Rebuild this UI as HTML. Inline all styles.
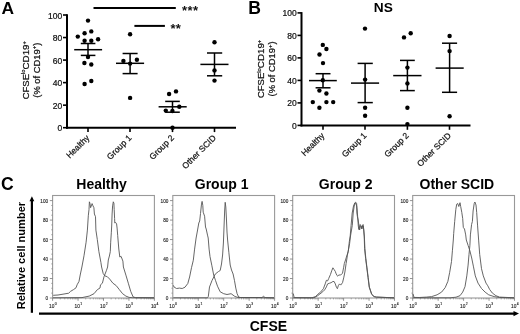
<!DOCTYPE html>
<html><head><meta charset="utf-8"><style>
html,body{margin:0;padding:0;background:#fff;}
svg{display:block;font-family:"Liberation Sans", sans-serif;will-change:transform;}
.r{stroke:#111;stroke-width:0.22px;}
.h{stroke:#222;stroke-width:0.12px;}
</style></head><body>
<svg width="520" height="334" viewBox="0 0 520 334">
<rect width="520" height="334" fill="#fff"/>
<line x1="67" y1="14.2" x2="67" y2="128.7" stroke="#000" stroke-width="2"/>
<line x1="66" y1="127.7" x2="236" y2="127.7" stroke="#000" stroke-width="2"/>
<line x1="63" y1="127.7" x2="67" y2="127.7" stroke="#000" stroke-width="1.6"/>
<text x="62.2" y="131.2" text-anchor="end" font-size="8.5" fill="#111" class="r">0</text>
<line x1="63" y1="105.16" x2="67" y2="105.16" stroke="#000" stroke-width="1.6"/>
<text x="62.2" y="108.66" text-anchor="end" font-size="8.5" fill="#111" class="r">20</text>
<line x1="63" y1="82.62" x2="67" y2="82.62" stroke="#000" stroke-width="1.6"/>
<text x="62.2" y="86.12" text-anchor="end" font-size="8.5" fill="#111" class="r">40</text>
<line x1="63" y1="60.08" x2="67" y2="60.08" stroke="#000" stroke-width="1.6"/>
<text x="62.2" y="63.58" text-anchor="end" font-size="8.5" fill="#111" class="r">60</text>
<line x1="63" y1="37.540000000000006" x2="67" y2="37.540000000000006" stroke="#000" stroke-width="1.6"/>
<text x="62.2" y="41.040000000000006" text-anchor="end" font-size="8.5" fill="#111" class="r">80</text>
<line x1="63" y1="15.0" x2="67" y2="15.0" stroke="#000" stroke-width="1.6"/>
<text x="62.2" y="18.5" text-anchor="end" font-size="8.5" fill="#111" class="r">100</text>
<line x1="88" y1="127.7" x2="88" y2="132.1" stroke="#000" stroke-width="1.6"/>
<line x1="130" y1="127.7" x2="130" y2="132.1" stroke="#000" stroke-width="1.6"/>
<line x1="172.5" y1="127.7" x2="172.5" y2="132.1" stroke="#000" stroke-width="1.6"/>
<line x1="214.5" y1="127.7" x2="214.5" y2="132.1" stroke="#000" stroke-width="1.6"/>
<text transform="translate(90.05,138.45) rotate(-45)" text-anchor="end" font-size="8.5" fill="#111" class="r">Healthy</text>
<text transform="translate(132.05,138.45) rotate(-45)" text-anchor="end" font-size="8.5" fill="#111" class="r">Group 1</text>
<text transform="translate(174.55,138.45) rotate(-45)" text-anchor="end" font-size="8.5" fill="#111" class="r">Group 2</text>
<text transform="translate(216.55,138.45) rotate(-45)" text-anchor="end" font-size="8.5" fill="#111" class="r">Other SCID</text>
<line x1="88" y1="43.5" x2="88" y2="55.4" stroke="#000" stroke-width="1.5"/>
<line x1="74.2" y1="49.7" x2="102.1" y2="49.7" stroke="#000" stroke-width="1.5"/>
<line x1="80.8" y1="43.5" x2="95.4" y2="43.5" stroke="#000" stroke-width="1.5"/>
<line x1="80.8" y1="55.4" x2="95.4" y2="55.4" stroke="#000" stroke-width="1.5"/>
<circle cx="88" cy="20.6" r="2.2" fill="#000"/>
<circle cx="84.6" cy="33.2" r="2.2" fill="#000"/>
<circle cx="91.3" cy="31.4" r="2.2" fill="#000"/>
<circle cx="77.8" cy="36.6" r="2.2" fill="#000"/>
<circle cx="98.1" cy="39.3" r="2.2" fill="#000"/>
<circle cx="84.6" cy="40.7" r="2.2" fill="#000"/>
<circle cx="91.3" cy="40.7" r="2.2" fill="#000"/>
<circle cx="88" cy="57" r="2.2" fill="#000"/>
<circle cx="84.4" cy="63" r="2.2" fill="#000"/>
<circle cx="91.3" cy="64.5" r="2.2" fill="#000"/>
<circle cx="91.3" cy="81" r="2.2" fill="#000"/>
<circle cx="84.6" cy="84" r="2.2" fill="#000"/>
<line x1="130.1" y1="53.5" x2="130.1" y2="73.6" stroke="#000" stroke-width="1.5"/>
<line x1="116" y1="63.3" x2="144.1" y2="63.3" stroke="#000" stroke-width="1.5"/>
<line x1="122.6" y1="53.5" x2="137.6" y2="53.5" stroke="#000" stroke-width="1.5"/>
<line x1="122.6" y1="73.6" x2="137.6" y2="73.6" stroke="#000" stroke-width="1.5"/>
<circle cx="130.1" cy="34.2" r="2.2" fill="#000"/>
<circle cx="123.4" cy="60.9" r="2.2" fill="#000"/>
<circle cx="136.9" cy="59.7" r="2.2" fill="#000"/>
<circle cx="130.1" cy="63.6" r="2.2" fill="#000"/>
<circle cx="130.1" cy="97.9" r="2.2" fill="#000"/>
<line x1="172.5" y1="101.4" x2="172.5" y2="112.2" stroke="#000" stroke-width="1.5"/>
<line x1="158.6" y1="106.8" x2="186.7" y2="106.8" stroke="#000" stroke-width="1.5"/>
<line x1="165.2" y1="101.4" x2="179.8" y2="101.4" stroke="#000" stroke-width="1.5"/>
<line x1="165.2" y1="112.2" x2="179.8" y2="112.2" stroke="#000" stroke-width="1.5"/>
<circle cx="169.1" cy="94" r="2.2" fill="#000"/>
<circle cx="176" cy="91.4" r="2.2" fill="#000"/>
<circle cx="179.3" cy="106.8" r="2.2" fill="#000"/>
<circle cx="165.8" cy="110.6" r="2.2" fill="#000"/>
<circle cx="172.4" cy="111" r="2.2" fill="#000"/>
<circle cx="172.5" cy="127.7" r="2.2" fill="#000"/>
<line x1="214.5" y1="53" x2="214.5" y2="75.8" stroke="#000" stroke-width="1.5"/>
<line x1="200.4" y1="64.4" x2="228.5" y2="64.4" stroke="#000" stroke-width="1.5"/>
<line x1="207" y1="53" x2="222.2" y2="53" stroke="#000" stroke-width="1.5"/>
<line x1="207" y1="75.8" x2="222.2" y2="75.8" stroke="#000" stroke-width="1.5"/>
<circle cx="214.5" cy="42.2" r="2.2" fill="#000"/>
<circle cx="214.5" cy="70.4" r="2.2" fill="#000"/>
<circle cx="214.5" cy="80.6" r="2.2" fill="#000"/>
<text transform="translate(28.6,70.2) rotate(-90)" text-anchor="middle" font-size="9.5" fill="#111" class="r">CFSE<tspan font-size="5.8" dy="-3.3">lo</tspan><tspan font-size="9.8" dy="3.3">CD19</tspan><tspan font-size="5.8" dy="-3.1">+</tspan></text>
<text transform="translate(39.6,70.2) rotate(-90)" text-anchor="middle" font-size="9.4" fill="#111" class="r">(% of CD19<tspan font-size="6" dy="-3.5">+</tspan><tspan dy="3.5">)</tspan></text>
<line x1="301.5" y1="12.1" x2="301.5" y2="126.4" stroke="#000" stroke-width="2"/>
<line x1="300.5" y1="125.4" x2="470.5" y2="125.4" stroke="#000" stroke-width="2"/>
<line x1="297.5" y1="125.4" x2="301.5" y2="125.4" stroke="#000" stroke-width="1.6"/>
<text x="296.7" y="128.9" text-anchor="end" font-size="8.5" fill="#111" class="r">0</text>
<line x1="297.5" y1="102.9" x2="301.5" y2="102.9" stroke="#000" stroke-width="1.6"/>
<text x="296.7" y="106.4" text-anchor="end" font-size="8.5" fill="#111" class="r">20</text>
<line x1="297.5" y1="80.4" x2="301.5" y2="80.4" stroke="#000" stroke-width="1.6"/>
<text x="296.7" y="83.9" text-anchor="end" font-size="8.5" fill="#111" class="r">40</text>
<line x1="297.5" y1="57.900000000000006" x2="301.5" y2="57.900000000000006" stroke="#000" stroke-width="1.6"/>
<text x="296.7" y="61.400000000000006" text-anchor="end" font-size="8.5" fill="#111" class="r">60</text>
<line x1="297.5" y1="35.400000000000006" x2="301.5" y2="35.400000000000006" stroke="#000" stroke-width="1.6"/>
<text x="296.7" y="38.900000000000006" text-anchor="end" font-size="8.5" fill="#111" class="r">80</text>
<line x1="297.5" y1="12.900000000000006" x2="301.5" y2="12.900000000000006" stroke="#000" stroke-width="1.6"/>
<text x="296.7" y="16.400000000000006" text-anchor="end" font-size="8.5" fill="#111" class="r">100</text>
<line x1="323" y1="125.4" x2="323" y2="129.8" stroke="#000" stroke-width="1.6"/>
<line x1="365" y1="125.4" x2="365" y2="129.8" stroke="#000" stroke-width="1.6"/>
<line x1="407.4" y1="125.4" x2="407.4" y2="129.8" stroke="#000" stroke-width="1.6"/>
<line x1="449.5" y1="125.4" x2="449.5" y2="129.8" stroke="#000" stroke-width="1.6"/>
<text transform="translate(325.05,136.14999999999998) rotate(-45)" text-anchor="end" font-size="8.5" fill="#111" class="r">Healthy</text>
<text transform="translate(367.05,136.14999999999998) rotate(-45)" text-anchor="end" font-size="8.5" fill="#111" class="r">Group 1</text>
<text transform="translate(409.45,136.14999999999998) rotate(-45)" text-anchor="end" font-size="8.5" fill="#111" class="r">Group 2</text>
<text transform="translate(451.55,136.14999999999998) rotate(-45)" text-anchor="end" font-size="8.5" fill="#111" class="r">Other SCID</text>
<line x1="323" y1="73.7" x2="323" y2="87.8" stroke="#000" stroke-width="1.5"/>
<line x1="309" y1="80.6" x2="336.8" y2="80.6" stroke="#000" stroke-width="1.5"/>
<line x1="315.6" y1="73.7" x2="330.5" y2="73.7" stroke="#000" stroke-width="1.5"/>
<line x1="315.6" y1="87.8" x2="330.5" y2="87.8" stroke="#000" stroke-width="1.5"/>
<circle cx="322.8" cy="44.9" r="2.2" fill="#000"/>
<circle cx="326.4" cy="49" r="2.2" fill="#000"/>
<circle cx="319.5" cy="54.5" r="2.2" fill="#000"/>
<circle cx="323" cy="63.1" r="2.2" fill="#000"/>
<circle cx="322.8" cy="80.3" r="2.2" fill="#000"/>
<circle cx="319.4" cy="90.6" r="2.2" fill="#000"/>
<circle cx="326.4" cy="93.5" r="2.2" fill="#000"/>
<circle cx="312.8" cy="102.1" r="2.2" fill="#000"/>
<circle cx="326.4" cy="102.1" r="2.2" fill="#000"/>
<circle cx="333.2" cy="102.1" r="2.2" fill="#000"/>
<circle cx="319.4" cy="107.8" r="2.2" fill="#000"/>
<line x1="365.1" y1="63.4" x2="365.1" y2="102.6" stroke="#000" stroke-width="1.5"/>
<line x1="351" y1="83.1" x2="379.1" y2="83.1" stroke="#000" stroke-width="1.5"/>
<line x1="357.6" y1="63.4" x2="372.8" y2="63.4" stroke="#000" stroke-width="1.5"/>
<line x1="357.6" y1="102.6" x2="372.8" y2="102.6" stroke="#000" stroke-width="1.5"/>
<circle cx="365" cy="28.6" r="2.2" fill="#000"/>
<circle cx="365.1" cy="79.6" r="2.2" fill="#000"/>
<circle cx="365.1" cy="107.8" r="2.2" fill="#000"/>
<circle cx="365.1" cy="115.8" r="2.2" fill="#000"/>
<line x1="407.4" y1="60.4" x2="407.4" y2="90.6" stroke="#000" stroke-width="1.5"/>
<line x1="393.2" y1="75.6" x2="421.5" y2="75.6" stroke="#000" stroke-width="1.5"/>
<line x1="400" y1="60.4" x2="414.8" y2="60.4" stroke="#000" stroke-width="1.5"/>
<line x1="400" y1="90.6" x2="414.8" y2="90.6" stroke="#000" stroke-width="1.5"/>
<circle cx="404" cy="37.4" r="2.2" fill="#000"/>
<circle cx="410.7" cy="33.2" r="2.2" fill="#000"/>
<circle cx="407.4" cy="67.6" r="2.2" fill="#000"/>
<circle cx="407.4" cy="83.4" r="2.2" fill="#000"/>
<circle cx="407.4" cy="107.7" r="2.2" fill="#000"/>
<circle cx="407.4" cy="124.1" r="2.2" fill="#000"/>
<line x1="449.6" y1="43.2" x2="449.6" y2="92.3" stroke="#000" stroke-width="1.5"/>
<line x1="435.6" y1="68.1" x2="463.7" y2="68.1" stroke="#000" stroke-width="1.5"/>
<line x1="442" y1="43.2" x2="457.1" y2="43.2" stroke="#000" stroke-width="1.5"/>
<line x1="442" y1="92.3" x2="457.1" y2="92.3" stroke="#000" stroke-width="1.5"/>
<circle cx="449.6" cy="36" r="2.2" fill="#000"/>
<circle cx="449.6" cy="51.1" r="2.2" fill="#000"/>
<circle cx="449.6" cy="116.3" r="2.2" fill="#000"/>
<text transform="translate(263.8,68.9) rotate(-90)" text-anchor="middle" font-size="9.5" fill="#111" class="r">CFSE<tspan font-size="5.8" dy="-3.3">lo</tspan><tspan font-size="9.8" dy="3.3">CD19</tspan><tspan font-size="5.8" dy="-3.1">+</tspan></text>
<text transform="translate(275.0,68.9) rotate(-90)" text-anchor="middle" font-size="9.4" fill="#111" class="r">(% of CD19<tspan font-size="6" dy="-3.5">+</tspan><tspan dy="3.5">)</tspan></text>
<line x1="93.5" y1="8" x2="175.8" y2="8" stroke="#000" stroke-width="2"/>
<text x="182.1" y="15.2" font-size="13" font-weight="bold" fill="#111" letter-spacing="0.35">***</text>
<line x1="134.4" y1="25.9" x2="164.9" y2="25.9" stroke="#000" stroke-width="2"/>
<text x="170.6" y="33.4" font-size="13" font-weight="bold" fill="#111" letter-spacing="0.1">**</text>
<text x="1.5" y="14.2" font-size="17.4" font-weight="bold">A</text>
<text x="248.2" y="13.8" font-size="17.6" font-weight="bold">B</text>
<text x="1.1" y="190.4" font-size="17.6" font-weight="bold">C</text>
<text x="373.8" y="12" font-size="13.7" font-weight="bold">NS</text>
<text x="101.6" y="189" text-anchor="middle" font-size="14" font-weight="bold">Healthy</text>
<text x="221.6" y="189" text-anchor="middle" font-size="14" font-weight="bold">Group 1</text>
<text x="345.7" y="189" text-anchor="middle" font-size="14" font-weight="bold">Group 2</text>
<text x="456.9" y="189" text-anchor="middle" font-size="14" font-weight="bold">Other SCID</text>
<rect x="52.6" y="195.5" width="101.8" height="102.5" fill="none" stroke="#999" stroke-width="1.1"/>
<line x1="49.800000000000004" y1="298.0" x2="52.6" y2="298.0" stroke="#777" stroke-width="0.8"/>
<text x="48.2" y="300.2" text-anchor="end" font-size="4.7" fill="#222" class="h">0</text>
<line x1="49.800000000000004" y1="278.52" x2="52.6" y2="278.52" stroke="#777" stroke-width="0.8"/>
<text x="48.2" y="280.71999999999997" text-anchor="end" font-size="4.7" fill="#222" class="h">20</text>
<line x1="49.800000000000004" y1="259.04" x2="52.6" y2="259.04" stroke="#777" stroke-width="0.8"/>
<text x="48.2" y="261.24" text-anchor="end" font-size="4.7" fill="#222" class="h">40</text>
<line x1="49.800000000000004" y1="239.56" x2="52.6" y2="239.56" stroke="#777" stroke-width="0.8"/>
<text x="48.2" y="241.76" text-anchor="end" font-size="4.7" fill="#222" class="h">60</text>
<line x1="49.800000000000004" y1="220.07999999999998" x2="52.6" y2="220.07999999999998" stroke="#777" stroke-width="0.8"/>
<text x="48.2" y="222.27999999999997" text-anchor="end" font-size="4.7" fill="#222" class="h">80</text>
<line x1="49.800000000000004" y1="200.6" x2="52.6" y2="200.6" stroke="#777" stroke-width="0.8"/>
<text x="48.2" y="202.79999999999998" text-anchor="end" font-size="4.7" fill="#222" class="h">100</text>
<line x1="51.2" y1="293.13" x2="52.6" y2="293.13" stroke="#888" stroke-width="0.7"/>
<line x1="51.2" y1="288.26" x2="52.6" y2="288.26" stroke="#888" stroke-width="0.7"/>
<line x1="51.2" y1="283.39" x2="52.6" y2="283.39" stroke="#888" stroke-width="0.7"/>
<line x1="51.2" y1="273.65" x2="52.6" y2="273.65" stroke="#888" stroke-width="0.7"/>
<line x1="51.2" y1="268.78" x2="52.6" y2="268.78" stroke="#888" stroke-width="0.7"/>
<line x1="51.2" y1="263.90999999999997" x2="52.6" y2="263.90999999999997" stroke="#888" stroke-width="0.7"/>
<line x1="51.2" y1="254.17000000000002" x2="52.6" y2="254.17000000000002" stroke="#888" stroke-width="0.7"/>
<line x1="51.2" y1="249.3" x2="52.6" y2="249.3" stroke="#888" stroke-width="0.7"/>
<line x1="51.2" y1="244.43" x2="52.6" y2="244.43" stroke="#888" stroke-width="0.7"/>
<line x1="51.2" y1="234.69" x2="52.6" y2="234.69" stroke="#888" stroke-width="0.7"/>
<line x1="51.2" y1="229.82" x2="52.6" y2="229.82" stroke="#888" stroke-width="0.7"/>
<line x1="51.2" y1="224.95" x2="52.6" y2="224.95" stroke="#888" stroke-width="0.7"/>
<line x1="51.2" y1="215.20999999999998" x2="52.6" y2="215.20999999999998" stroke="#888" stroke-width="0.7"/>
<line x1="51.2" y1="210.34" x2="52.6" y2="210.34" stroke="#888" stroke-width="0.7"/>
<line x1="51.2" y1="205.47" x2="52.6" y2="205.47" stroke="#888" stroke-width="0.7"/>
<line x1="52.6" y1="298" x2="52.6" y2="300.8" stroke="#777" stroke-width="0.8"/>
<text x="49.10" y="307.6" font-size="4.8" fill="#222" class="h">10<tspan font-size="3.4" dx="0.3" dy="-2.8">0</tspan></text>
<line x1="60.26" y1="298" x2="60.26" y2="299.4" stroke="#888" stroke-width="0.7"/>
<line x1="64.74" y1="298" x2="64.74" y2="299.4" stroke="#888" stroke-width="0.7"/>
<line x1="67.92" y1="298" x2="67.92" y2="299.4" stroke="#888" stroke-width="0.7"/>
<line x1="70.39" y1="298" x2="70.39" y2="299.4" stroke="#888" stroke-width="0.7"/>
<line x1="72.40" y1="298" x2="72.40" y2="299.4" stroke="#888" stroke-width="0.7"/>
<line x1="74.11" y1="298" x2="74.11" y2="299.4" stroke="#888" stroke-width="0.7"/>
<line x1="75.58" y1="298" x2="75.58" y2="299.4" stroke="#888" stroke-width="0.7"/>
<line x1="76.89" y1="298" x2="76.89" y2="299.4" stroke="#888" stroke-width="0.7"/>
<line x1="78.05" y1="298" x2="78.05" y2="300.8" stroke="#777" stroke-width="0.8"/>
<text x="74.55" y="307.6" font-size="4.8" fill="#222" class="h">10<tspan font-size="3.4" dx="0.3" dy="-2.8">1</tspan></text>
<line x1="85.71" y1="298" x2="85.71" y2="299.4" stroke="#888" stroke-width="0.7"/>
<line x1="90.19" y1="298" x2="90.19" y2="299.4" stroke="#888" stroke-width="0.7"/>
<line x1="93.37" y1="298" x2="93.37" y2="299.4" stroke="#888" stroke-width="0.7"/>
<line x1="95.84" y1="298" x2="95.84" y2="299.4" stroke="#888" stroke-width="0.7"/>
<line x1="97.85" y1="298" x2="97.85" y2="299.4" stroke="#888" stroke-width="0.7"/>
<line x1="99.56" y1="298" x2="99.56" y2="299.4" stroke="#888" stroke-width="0.7"/>
<line x1="101.03" y1="298" x2="101.03" y2="299.4" stroke="#888" stroke-width="0.7"/>
<line x1="102.34" y1="298" x2="102.34" y2="299.4" stroke="#888" stroke-width="0.7"/>
<line x1="103.5" y1="298" x2="103.5" y2="300.8" stroke="#777" stroke-width="0.8"/>
<text x="100.00" y="307.6" font-size="4.8" fill="#222" class="h">10<tspan font-size="3.4" dx="0.3" dy="-2.8">2</tspan></text>
<line x1="111.16" y1="298" x2="111.16" y2="299.4" stroke="#888" stroke-width="0.7"/>
<line x1="115.64" y1="298" x2="115.64" y2="299.4" stroke="#888" stroke-width="0.7"/>
<line x1="118.82" y1="298" x2="118.82" y2="299.4" stroke="#888" stroke-width="0.7"/>
<line x1="121.29" y1="298" x2="121.29" y2="299.4" stroke="#888" stroke-width="0.7"/>
<line x1="123.30" y1="298" x2="123.30" y2="299.4" stroke="#888" stroke-width="0.7"/>
<line x1="125.01" y1="298" x2="125.01" y2="299.4" stroke="#888" stroke-width="0.7"/>
<line x1="126.48" y1="298" x2="126.48" y2="299.4" stroke="#888" stroke-width="0.7"/>
<line x1="127.79" y1="298" x2="127.79" y2="299.4" stroke="#888" stroke-width="0.7"/>
<line x1="128.95" y1="298" x2="128.95" y2="300.8" stroke="#777" stroke-width="0.8"/>
<text x="125.45" y="307.6" font-size="4.8" fill="#222" class="h">10<tspan font-size="3.4" dx="0.3" dy="-2.8">3</tspan></text>
<line x1="136.61" y1="298" x2="136.61" y2="299.4" stroke="#888" stroke-width="0.7"/>
<line x1="141.09" y1="298" x2="141.09" y2="299.4" stroke="#888" stroke-width="0.7"/>
<line x1="144.27" y1="298" x2="144.27" y2="299.4" stroke="#888" stroke-width="0.7"/>
<line x1="146.74" y1="298" x2="146.74" y2="299.4" stroke="#888" stroke-width="0.7"/>
<line x1="148.75" y1="298" x2="148.75" y2="299.4" stroke="#888" stroke-width="0.7"/>
<line x1="150.46" y1="298" x2="150.46" y2="299.4" stroke="#888" stroke-width="0.7"/>
<line x1="151.93" y1="298" x2="151.93" y2="299.4" stroke="#888" stroke-width="0.7"/>
<line x1="153.24" y1="298" x2="153.24" y2="299.4" stroke="#888" stroke-width="0.7"/>
<line x1="154.4" y1="298" x2="154.4" y2="300.8" stroke="#777" stroke-width="0.8"/>
<text x="150.90" y="307.6" font-size="4.8" fill="#222" class="h">10<tspan font-size="3.4" dx="0.3" dy="-2.8">4</tspan></text>
<rect x="172.8" y="195.5" width="101.8" height="102.5" fill="none" stroke="#999" stroke-width="1.1"/>
<line x1="170.0" y1="298.0" x2="172.8" y2="298.0" stroke="#777" stroke-width="0.8"/>
<text x="168.4" y="300.2" text-anchor="end" font-size="4.7" fill="#222" class="h">0</text>
<line x1="170.0" y1="278.52" x2="172.8" y2="278.52" stroke="#777" stroke-width="0.8"/>
<text x="168.4" y="280.71999999999997" text-anchor="end" font-size="4.7" fill="#222" class="h">20</text>
<line x1="170.0" y1="259.04" x2="172.8" y2="259.04" stroke="#777" stroke-width="0.8"/>
<text x="168.4" y="261.24" text-anchor="end" font-size="4.7" fill="#222" class="h">40</text>
<line x1="170.0" y1="239.56" x2="172.8" y2="239.56" stroke="#777" stroke-width="0.8"/>
<text x="168.4" y="241.76" text-anchor="end" font-size="4.7" fill="#222" class="h">60</text>
<line x1="170.0" y1="220.07999999999998" x2="172.8" y2="220.07999999999998" stroke="#777" stroke-width="0.8"/>
<text x="168.4" y="222.27999999999997" text-anchor="end" font-size="4.7" fill="#222" class="h">80</text>
<line x1="170.0" y1="200.6" x2="172.8" y2="200.6" stroke="#777" stroke-width="0.8"/>
<text x="168.4" y="202.79999999999998" text-anchor="end" font-size="4.7" fill="#222" class="h">100</text>
<line x1="171.4" y1="293.13" x2="172.8" y2="293.13" stroke="#888" stroke-width="0.7"/>
<line x1="171.4" y1="288.26" x2="172.8" y2="288.26" stroke="#888" stroke-width="0.7"/>
<line x1="171.4" y1="283.39" x2="172.8" y2="283.39" stroke="#888" stroke-width="0.7"/>
<line x1="171.4" y1="273.65" x2="172.8" y2="273.65" stroke="#888" stroke-width="0.7"/>
<line x1="171.4" y1="268.78" x2="172.8" y2="268.78" stroke="#888" stroke-width="0.7"/>
<line x1="171.4" y1="263.90999999999997" x2="172.8" y2="263.90999999999997" stroke="#888" stroke-width="0.7"/>
<line x1="171.4" y1="254.17000000000002" x2="172.8" y2="254.17000000000002" stroke="#888" stroke-width="0.7"/>
<line x1="171.4" y1="249.3" x2="172.8" y2="249.3" stroke="#888" stroke-width="0.7"/>
<line x1="171.4" y1="244.43" x2="172.8" y2="244.43" stroke="#888" stroke-width="0.7"/>
<line x1="171.4" y1="234.69" x2="172.8" y2="234.69" stroke="#888" stroke-width="0.7"/>
<line x1="171.4" y1="229.82" x2="172.8" y2="229.82" stroke="#888" stroke-width="0.7"/>
<line x1="171.4" y1="224.95" x2="172.8" y2="224.95" stroke="#888" stroke-width="0.7"/>
<line x1="171.4" y1="215.20999999999998" x2="172.8" y2="215.20999999999998" stroke="#888" stroke-width="0.7"/>
<line x1="171.4" y1="210.34" x2="172.8" y2="210.34" stroke="#888" stroke-width="0.7"/>
<line x1="171.4" y1="205.47" x2="172.8" y2="205.47" stroke="#888" stroke-width="0.7"/>
<line x1="172.8" y1="298" x2="172.8" y2="300.8" stroke="#777" stroke-width="0.8"/>
<text x="169.30" y="307.6" font-size="4.8" fill="#222" class="h">10<tspan font-size="3.4" dx="0.3" dy="-2.8">0</tspan></text>
<line x1="180.46" y1="298" x2="180.46" y2="299.4" stroke="#888" stroke-width="0.7"/>
<line x1="184.94" y1="298" x2="184.94" y2="299.4" stroke="#888" stroke-width="0.7"/>
<line x1="188.12" y1="298" x2="188.12" y2="299.4" stroke="#888" stroke-width="0.7"/>
<line x1="190.59" y1="298" x2="190.59" y2="299.4" stroke="#888" stroke-width="0.7"/>
<line x1="192.60" y1="298" x2="192.60" y2="299.4" stroke="#888" stroke-width="0.7"/>
<line x1="194.31" y1="298" x2="194.31" y2="299.4" stroke="#888" stroke-width="0.7"/>
<line x1="195.78" y1="298" x2="195.78" y2="299.4" stroke="#888" stroke-width="0.7"/>
<line x1="197.09" y1="298" x2="197.09" y2="299.4" stroke="#888" stroke-width="0.7"/>
<line x1="198.25" y1="298" x2="198.25" y2="300.8" stroke="#777" stroke-width="0.8"/>
<text x="194.75" y="307.6" font-size="4.8" fill="#222" class="h">10<tspan font-size="3.4" dx="0.3" dy="-2.8">1</tspan></text>
<line x1="205.91" y1="298" x2="205.91" y2="299.4" stroke="#888" stroke-width="0.7"/>
<line x1="210.39" y1="298" x2="210.39" y2="299.4" stroke="#888" stroke-width="0.7"/>
<line x1="213.57" y1="298" x2="213.57" y2="299.4" stroke="#888" stroke-width="0.7"/>
<line x1="216.04" y1="298" x2="216.04" y2="299.4" stroke="#888" stroke-width="0.7"/>
<line x1="218.05" y1="298" x2="218.05" y2="299.4" stroke="#888" stroke-width="0.7"/>
<line x1="219.76" y1="298" x2="219.76" y2="299.4" stroke="#888" stroke-width="0.7"/>
<line x1="221.23" y1="298" x2="221.23" y2="299.4" stroke="#888" stroke-width="0.7"/>
<line x1="222.54" y1="298" x2="222.54" y2="299.4" stroke="#888" stroke-width="0.7"/>
<line x1="223.70000000000002" y1="298" x2="223.70000000000002" y2="300.8" stroke="#777" stroke-width="0.8"/>
<text x="220.20" y="307.6" font-size="4.8" fill="#222" class="h">10<tspan font-size="3.4" dx="0.3" dy="-2.8">2</tspan></text>
<line x1="231.36" y1="298" x2="231.36" y2="299.4" stroke="#888" stroke-width="0.7"/>
<line x1="235.84" y1="298" x2="235.84" y2="299.4" stroke="#888" stroke-width="0.7"/>
<line x1="239.02" y1="298" x2="239.02" y2="299.4" stroke="#888" stroke-width="0.7"/>
<line x1="241.49" y1="298" x2="241.49" y2="299.4" stroke="#888" stroke-width="0.7"/>
<line x1="243.50" y1="298" x2="243.50" y2="299.4" stroke="#888" stroke-width="0.7"/>
<line x1="245.21" y1="298" x2="245.21" y2="299.4" stroke="#888" stroke-width="0.7"/>
<line x1="246.68" y1="298" x2="246.68" y2="299.4" stroke="#888" stroke-width="0.7"/>
<line x1="247.99" y1="298" x2="247.99" y2="299.4" stroke="#888" stroke-width="0.7"/>
<line x1="249.15" y1="298" x2="249.15" y2="300.8" stroke="#777" stroke-width="0.8"/>
<text x="245.65" y="307.6" font-size="4.8" fill="#222" class="h">10<tspan font-size="3.4" dx="0.3" dy="-2.8">3</tspan></text>
<line x1="256.81" y1="298" x2="256.81" y2="299.4" stroke="#888" stroke-width="0.7"/>
<line x1="261.29" y1="298" x2="261.29" y2="299.4" stroke="#888" stroke-width="0.7"/>
<line x1="264.47" y1="298" x2="264.47" y2="299.4" stroke="#888" stroke-width="0.7"/>
<line x1="266.94" y1="298" x2="266.94" y2="299.4" stroke="#888" stroke-width="0.7"/>
<line x1="268.95" y1="298" x2="268.95" y2="299.4" stroke="#888" stroke-width="0.7"/>
<line x1="270.66" y1="298" x2="270.66" y2="299.4" stroke="#888" stroke-width="0.7"/>
<line x1="272.13" y1="298" x2="272.13" y2="299.4" stroke="#888" stroke-width="0.7"/>
<line x1="273.44" y1="298" x2="273.44" y2="299.4" stroke="#888" stroke-width="0.7"/>
<line x1="274.6" y1="298" x2="274.6" y2="300.8" stroke="#777" stroke-width="0.8"/>
<text x="271.10" y="307.6" font-size="4.8" fill="#222" class="h">10<tspan font-size="3.4" dx="0.3" dy="-2.8">4</tspan></text>
<rect x="292.7" y="195.5" width="101.8" height="102.5" fill="none" stroke="#999" stroke-width="1.1"/>
<line x1="289.9" y1="298.0" x2="292.7" y2="298.0" stroke="#777" stroke-width="0.8"/>
<text x="288.3" y="300.2" text-anchor="end" font-size="4.7" fill="#222" class="h">0</text>
<line x1="289.9" y1="278.52" x2="292.7" y2="278.52" stroke="#777" stroke-width="0.8"/>
<text x="288.3" y="280.71999999999997" text-anchor="end" font-size="4.7" fill="#222" class="h">20</text>
<line x1="289.9" y1="259.04" x2="292.7" y2="259.04" stroke="#777" stroke-width="0.8"/>
<text x="288.3" y="261.24" text-anchor="end" font-size="4.7" fill="#222" class="h">40</text>
<line x1="289.9" y1="239.56" x2="292.7" y2="239.56" stroke="#777" stroke-width="0.8"/>
<text x="288.3" y="241.76" text-anchor="end" font-size="4.7" fill="#222" class="h">60</text>
<line x1="289.9" y1="220.07999999999998" x2="292.7" y2="220.07999999999998" stroke="#777" stroke-width="0.8"/>
<text x="288.3" y="222.27999999999997" text-anchor="end" font-size="4.7" fill="#222" class="h">80</text>
<line x1="289.9" y1="200.6" x2="292.7" y2="200.6" stroke="#777" stroke-width="0.8"/>
<text x="288.3" y="202.79999999999998" text-anchor="end" font-size="4.7" fill="#222" class="h">100</text>
<line x1="291.3" y1="293.13" x2="292.7" y2="293.13" stroke="#888" stroke-width="0.7"/>
<line x1="291.3" y1="288.26" x2="292.7" y2="288.26" stroke="#888" stroke-width="0.7"/>
<line x1="291.3" y1="283.39" x2="292.7" y2="283.39" stroke="#888" stroke-width="0.7"/>
<line x1="291.3" y1="273.65" x2="292.7" y2="273.65" stroke="#888" stroke-width="0.7"/>
<line x1="291.3" y1="268.78" x2="292.7" y2="268.78" stroke="#888" stroke-width="0.7"/>
<line x1="291.3" y1="263.90999999999997" x2="292.7" y2="263.90999999999997" stroke="#888" stroke-width="0.7"/>
<line x1="291.3" y1="254.17000000000002" x2="292.7" y2="254.17000000000002" stroke="#888" stroke-width="0.7"/>
<line x1="291.3" y1="249.3" x2="292.7" y2="249.3" stroke="#888" stroke-width="0.7"/>
<line x1="291.3" y1="244.43" x2="292.7" y2="244.43" stroke="#888" stroke-width="0.7"/>
<line x1="291.3" y1="234.69" x2="292.7" y2="234.69" stroke="#888" stroke-width="0.7"/>
<line x1="291.3" y1="229.82" x2="292.7" y2="229.82" stroke="#888" stroke-width="0.7"/>
<line x1="291.3" y1="224.95" x2="292.7" y2="224.95" stroke="#888" stroke-width="0.7"/>
<line x1="291.3" y1="215.20999999999998" x2="292.7" y2="215.20999999999998" stroke="#888" stroke-width="0.7"/>
<line x1="291.3" y1="210.34" x2="292.7" y2="210.34" stroke="#888" stroke-width="0.7"/>
<line x1="291.3" y1="205.47" x2="292.7" y2="205.47" stroke="#888" stroke-width="0.7"/>
<line x1="292.7" y1="298" x2="292.7" y2="300.8" stroke="#777" stroke-width="0.8"/>
<text x="289.20" y="307.6" font-size="4.8" fill="#222" class="h">10<tspan font-size="3.4" dx="0.3" dy="-2.8">0</tspan></text>
<line x1="300.36" y1="298" x2="300.36" y2="299.4" stroke="#888" stroke-width="0.7"/>
<line x1="304.84" y1="298" x2="304.84" y2="299.4" stroke="#888" stroke-width="0.7"/>
<line x1="308.02" y1="298" x2="308.02" y2="299.4" stroke="#888" stroke-width="0.7"/>
<line x1="310.49" y1="298" x2="310.49" y2="299.4" stroke="#888" stroke-width="0.7"/>
<line x1="312.50" y1="298" x2="312.50" y2="299.4" stroke="#888" stroke-width="0.7"/>
<line x1="314.21" y1="298" x2="314.21" y2="299.4" stroke="#888" stroke-width="0.7"/>
<line x1="315.68" y1="298" x2="315.68" y2="299.4" stroke="#888" stroke-width="0.7"/>
<line x1="316.99" y1="298" x2="316.99" y2="299.4" stroke="#888" stroke-width="0.7"/>
<line x1="318.15" y1="298" x2="318.15" y2="300.8" stroke="#777" stroke-width="0.8"/>
<text x="314.65" y="307.6" font-size="4.8" fill="#222" class="h">10<tspan font-size="3.4" dx="0.3" dy="-2.8">1</tspan></text>
<line x1="325.81" y1="298" x2="325.81" y2="299.4" stroke="#888" stroke-width="0.7"/>
<line x1="330.29" y1="298" x2="330.29" y2="299.4" stroke="#888" stroke-width="0.7"/>
<line x1="333.47" y1="298" x2="333.47" y2="299.4" stroke="#888" stroke-width="0.7"/>
<line x1="335.94" y1="298" x2="335.94" y2="299.4" stroke="#888" stroke-width="0.7"/>
<line x1="337.95" y1="298" x2="337.95" y2="299.4" stroke="#888" stroke-width="0.7"/>
<line x1="339.66" y1="298" x2="339.66" y2="299.4" stroke="#888" stroke-width="0.7"/>
<line x1="341.13" y1="298" x2="341.13" y2="299.4" stroke="#888" stroke-width="0.7"/>
<line x1="342.44" y1="298" x2="342.44" y2="299.4" stroke="#888" stroke-width="0.7"/>
<line x1="343.59999999999997" y1="298" x2="343.59999999999997" y2="300.8" stroke="#777" stroke-width="0.8"/>
<text x="340.10" y="307.6" font-size="4.8" fill="#222" class="h">10<tspan font-size="3.4" dx="0.3" dy="-2.8">2</tspan></text>
<line x1="351.26" y1="298" x2="351.26" y2="299.4" stroke="#888" stroke-width="0.7"/>
<line x1="355.74" y1="298" x2="355.74" y2="299.4" stroke="#888" stroke-width="0.7"/>
<line x1="358.92" y1="298" x2="358.92" y2="299.4" stroke="#888" stroke-width="0.7"/>
<line x1="361.39" y1="298" x2="361.39" y2="299.4" stroke="#888" stroke-width="0.7"/>
<line x1="363.40" y1="298" x2="363.40" y2="299.4" stroke="#888" stroke-width="0.7"/>
<line x1="365.11" y1="298" x2="365.11" y2="299.4" stroke="#888" stroke-width="0.7"/>
<line x1="366.58" y1="298" x2="366.58" y2="299.4" stroke="#888" stroke-width="0.7"/>
<line x1="367.89" y1="298" x2="367.89" y2="299.4" stroke="#888" stroke-width="0.7"/>
<line x1="369.04999999999995" y1="298" x2="369.04999999999995" y2="300.8" stroke="#777" stroke-width="0.8"/>
<text x="365.55" y="307.6" font-size="4.8" fill="#222" class="h">10<tspan font-size="3.4" dx="0.3" dy="-2.8">3</tspan></text>
<line x1="376.71" y1="298" x2="376.71" y2="299.4" stroke="#888" stroke-width="0.7"/>
<line x1="381.19" y1="298" x2="381.19" y2="299.4" stroke="#888" stroke-width="0.7"/>
<line x1="384.37" y1="298" x2="384.37" y2="299.4" stroke="#888" stroke-width="0.7"/>
<line x1="386.84" y1="298" x2="386.84" y2="299.4" stroke="#888" stroke-width="0.7"/>
<line x1="388.85" y1="298" x2="388.85" y2="299.4" stroke="#888" stroke-width="0.7"/>
<line x1="390.56" y1="298" x2="390.56" y2="299.4" stroke="#888" stroke-width="0.7"/>
<line x1="392.03" y1="298" x2="392.03" y2="299.4" stroke="#888" stroke-width="0.7"/>
<line x1="393.34" y1="298" x2="393.34" y2="299.4" stroke="#888" stroke-width="0.7"/>
<line x1="394.5" y1="298" x2="394.5" y2="300.8" stroke="#777" stroke-width="0.8"/>
<text x="391.00" y="307.6" font-size="4.8" fill="#222" class="h">10<tspan font-size="3.4" dx="0.3" dy="-2.8">4</tspan></text>
<rect x="412.7" y="195.5" width="101.8" height="102.5" fill="none" stroke="#999" stroke-width="1.1"/>
<line x1="409.9" y1="298.0" x2="412.7" y2="298.0" stroke="#777" stroke-width="0.8"/>
<text x="408.3" y="300.2" text-anchor="end" font-size="4.7" fill="#222" class="h">0</text>
<line x1="409.9" y1="278.52" x2="412.7" y2="278.52" stroke="#777" stroke-width="0.8"/>
<text x="408.3" y="280.71999999999997" text-anchor="end" font-size="4.7" fill="#222" class="h">20</text>
<line x1="409.9" y1="259.04" x2="412.7" y2="259.04" stroke="#777" stroke-width="0.8"/>
<text x="408.3" y="261.24" text-anchor="end" font-size="4.7" fill="#222" class="h">40</text>
<line x1="409.9" y1="239.56" x2="412.7" y2="239.56" stroke="#777" stroke-width="0.8"/>
<text x="408.3" y="241.76" text-anchor="end" font-size="4.7" fill="#222" class="h">60</text>
<line x1="409.9" y1="220.07999999999998" x2="412.7" y2="220.07999999999998" stroke="#777" stroke-width="0.8"/>
<text x="408.3" y="222.27999999999997" text-anchor="end" font-size="4.7" fill="#222" class="h">80</text>
<line x1="409.9" y1="200.6" x2="412.7" y2="200.6" stroke="#777" stroke-width="0.8"/>
<text x="408.3" y="202.79999999999998" text-anchor="end" font-size="4.7" fill="#222" class="h">100</text>
<line x1="411.3" y1="293.13" x2="412.7" y2="293.13" stroke="#888" stroke-width="0.7"/>
<line x1="411.3" y1="288.26" x2="412.7" y2="288.26" stroke="#888" stroke-width="0.7"/>
<line x1="411.3" y1="283.39" x2="412.7" y2="283.39" stroke="#888" stroke-width="0.7"/>
<line x1="411.3" y1="273.65" x2="412.7" y2="273.65" stroke="#888" stroke-width="0.7"/>
<line x1="411.3" y1="268.78" x2="412.7" y2="268.78" stroke="#888" stroke-width="0.7"/>
<line x1="411.3" y1="263.90999999999997" x2="412.7" y2="263.90999999999997" stroke="#888" stroke-width="0.7"/>
<line x1="411.3" y1="254.17000000000002" x2="412.7" y2="254.17000000000002" stroke="#888" stroke-width="0.7"/>
<line x1="411.3" y1="249.3" x2="412.7" y2="249.3" stroke="#888" stroke-width="0.7"/>
<line x1="411.3" y1="244.43" x2="412.7" y2="244.43" stroke="#888" stroke-width="0.7"/>
<line x1="411.3" y1="234.69" x2="412.7" y2="234.69" stroke="#888" stroke-width="0.7"/>
<line x1="411.3" y1="229.82" x2="412.7" y2="229.82" stroke="#888" stroke-width="0.7"/>
<line x1="411.3" y1="224.95" x2="412.7" y2="224.95" stroke="#888" stroke-width="0.7"/>
<line x1="411.3" y1="215.20999999999998" x2="412.7" y2="215.20999999999998" stroke="#888" stroke-width="0.7"/>
<line x1="411.3" y1="210.34" x2="412.7" y2="210.34" stroke="#888" stroke-width="0.7"/>
<line x1="411.3" y1="205.47" x2="412.7" y2="205.47" stroke="#888" stroke-width="0.7"/>
<line x1="412.7" y1="298" x2="412.7" y2="300.8" stroke="#777" stroke-width="0.8"/>
<text x="409.20" y="307.6" font-size="4.8" fill="#222" class="h">10<tspan font-size="3.4" dx="0.3" dy="-2.8">0</tspan></text>
<line x1="420.36" y1="298" x2="420.36" y2="299.4" stroke="#888" stroke-width="0.7"/>
<line x1="424.84" y1="298" x2="424.84" y2="299.4" stroke="#888" stroke-width="0.7"/>
<line x1="428.02" y1="298" x2="428.02" y2="299.4" stroke="#888" stroke-width="0.7"/>
<line x1="430.49" y1="298" x2="430.49" y2="299.4" stroke="#888" stroke-width="0.7"/>
<line x1="432.50" y1="298" x2="432.50" y2="299.4" stroke="#888" stroke-width="0.7"/>
<line x1="434.21" y1="298" x2="434.21" y2="299.4" stroke="#888" stroke-width="0.7"/>
<line x1="435.68" y1="298" x2="435.68" y2="299.4" stroke="#888" stroke-width="0.7"/>
<line x1="436.99" y1="298" x2="436.99" y2="299.4" stroke="#888" stroke-width="0.7"/>
<line x1="438.15" y1="298" x2="438.15" y2="300.8" stroke="#777" stroke-width="0.8"/>
<text x="434.65" y="307.6" font-size="4.8" fill="#222" class="h">10<tspan font-size="3.4" dx="0.3" dy="-2.8">1</tspan></text>
<line x1="445.81" y1="298" x2="445.81" y2="299.4" stroke="#888" stroke-width="0.7"/>
<line x1="450.29" y1="298" x2="450.29" y2="299.4" stroke="#888" stroke-width="0.7"/>
<line x1="453.47" y1="298" x2="453.47" y2="299.4" stroke="#888" stroke-width="0.7"/>
<line x1="455.94" y1="298" x2="455.94" y2="299.4" stroke="#888" stroke-width="0.7"/>
<line x1="457.95" y1="298" x2="457.95" y2="299.4" stroke="#888" stroke-width="0.7"/>
<line x1="459.66" y1="298" x2="459.66" y2="299.4" stroke="#888" stroke-width="0.7"/>
<line x1="461.13" y1="298" x2="461.13" y2="299.4" stroke="#888" stroke-width="0.7"/>
<line x1="462.44" y1="298" x2="462.44" y2="299.4" stroke="#888" stroke-width="0.7"/>
<line x1="463.59999999999997" y1="298" x2="463.59999999999997" y2="300.8" stroke="#777" stroke-width="0.8"/>
<text x="460.10" y="307.6" font-size="4.8" fill="#222" class="h">10<tspan font-size="3.4" dx="0.3" dy="-2.8">2</tspan></text>
<line x1="471.26" y1="298" x2="471.26" y2="299.4" stroke="#888" stroke-width="0.7"/>
<line x1="475.74" y1="298" x2="475.74" y2="299.4" stroke="#888" stroke-width="0.7"/>
<line x1="478.92" y1="298" x2="478.92" y2="299.4" stroke="#888" stroke-width="0.7"/>
<line x1="481.39" y1="298" x2="481.39" y2="299.4" stroke="#888" stroke-width="0.7"/>
<line x1="483.40" y1="298" x2="483.40" y2="299.4" stroke="#888" stroke-width="0.7"/>
<line x1="485.11" y1="298" x2="485.11" y2="299.4" stroke="#888" stroke-width="0.7"/>
<line x1="486.58" y1="298" x2="486.58" y2="299.4" stroke="#888" stroke-width="0.7"/>
<line x1="487.89" y1="298" x2="487.89" y2="299.4" stroke="#888" stroke-width="0.7"/>
<line x1="489.04999999999995" y1="298" x2="489.04999999999995" y2="300.8" stroke="#777" stroke-width="0.8"/>
<text x="485.55" y="307.6" font-size="4.8" fill="#222" class="h">10<tspan font-size="3.4" dx="0.3" dy="-2.8">3</tspan></text>
<line x1="496.71" y1="298" x2="496.71" y2="299.4" stroke="#888" stroke-width="0.7"/>
<line x1="501.19" y1="298" x2="501.19" y2="299.4" stroke="#888" stroke-width="0.7"/>
<line x1="504.37" y1="298" x2="504.37" y2="299.4" stroke="#888" stroke-width="0.7"/>
<line x1="506.84" y1="298" x2="506.84" y2="299.4" stroke="#888" stroke-width="0.7"/>
<line x1="508.85" y1="298" x2="508.85" y2="299.4" stroke="#888" stroke-width="0.7"/>
<line x1="510.56" y1="298" x2="510.56" y2="299.4" stroke="#888" stroke-width="0.7"/>
<line x1="512.03" y1="298" x2="512.03" y2="299.4" stroke="#888" stroke-width="0.7"/>
<line x1="513.34" y1="298" x2="513.34" y2="299.4" stroke="#888" stroke-width="0.7"/>
<line x1="514.5" y1="298" x2="514.5" y2="300.8" stroke="#777" stroke-width="0.8"/>
<text x="511.00" y="307.6" font-size="4.8" fill="#222" class="h">10<tspan font-size="3.4" dx="0.3" dy="-2.8">4</tspan></text>
<path d="M53.2,295.3 L58,295 L64,294 L68.7,293.2 L70.5,291.4 L73.5,289.6 L76,287.8 L77.1,284.8 L79,281.4 L80.2,275 L81.9,267 L84,255.7 L86.1,242.2 L87.4,230.1 L88.3,215.8 L89,209.5 L89.4,201.8 L89.9,203.2 L90.6,207.7 L92.1,203.6 L93,205.9 L93.9,207.7 L94.4,214 L95.5,216.7 L95.9,230.1 L97.3,239.5 L98.9,251.6 L100.9,262.4 L101.6,267 L103.2,273.5 L104.9,275.9 L107.3,276.7 L109.7,279.1 L112.9,283.2 L116.2,285.6 L119.4,289.7 L122.6,293.7 L125.9,296.1 L129.1,297.4 L132.3,297.7 L154,297.8" fill="none" stroke="#555" stroke-width="0.9" stroke-linejoin="round"/>
<path d="M53,297.8 L82,297.6 L89.2,296.1 L94,293.7 L97.3,289.7 L100,288 L100.5,284.8 L102.4,283.2 L104,276.7 L106.5,270.3 L107.6,267 L108.3,260 L109.4,256 L110.3,251.6 L110.7,242.2 L111.3,232.8 L111.7,226 L112.1,214 L112.6,205.9 L113.3,201.8 L113.9,203.2 L114.2,209.5 L114.6,218.5 L114.8,223 L115.7,222.5 L116.6,223.9 L117.1,228.1 L117.7,235.5 L118.8,249 L119.8,257 L121.1,256.4 L122.9,261.1 L123.4,267 L125.9,275.1 L128.3,283.2 L130.7,291.3 L133.1,296.9 L135.6,297.7 L154,297.8" fill="none" stroke="#555" stroke-width="0.9" stroke-linejoin="round"/>
<path d="M173.3,285.3 L174.2,287.2 L176.6,288.5 L179.4,288.1 L182.2,288.5 L185,287.2 L187.8,283.5 L189.6,277 L191.5,267.7 L193.3,260.3 L194.6,249.1 L196.1,238 L197.4,231 L198.8,223 L199.7,221 L200.5,213.5 L201.5,204.1 L202.1,201.4 L202.8,205.4 L203.2,212.2 L204.6,216.2 L205.5,227 L206.2,229 L207.5,235.1 L208.2,238 L209.1,249.1 L210,256.6 L211.9,265.8 L213.7,275.1 L215.6,280.7 L217.5,286.2 L220.2,291.8 L223.7,293.7 L227,294.5 L231.1,293.7 L234.8,296.4 L238,297.5 L262,297.5 L263.6,296.3 L265,297.6 L274,297.8" fill="none" stroke="#555" stroke-width="0.9" stroke-linejoin="round"/>
<path d="M173.3,297.8 L207.5,297.8 L208.3,296.5 L209.5,287 L212,280.5 L215.3,274 L218.5,271.5 L220.2,270.5 L221.5,264 L222.6,255 L223.4,243 L224.1,225 L224.7,210 L225.2,202.3 L225.8,207 L226.4,218 L227,232 L227.6,240 L228.9,252.8 L230.2,265 L231.5,270 L233.1,274 L234.5,280.7 L235.8,288.1 L237.1,293.7 L238.6,297 L240.4,297.5 L274,297.8" fill="none" stroke="#555" stroke-width="0.9" stroke-linejoin="round"/>
<path d="M293.2,293.5 L294.2,297.6 L312,297.8 L315.6,296.5 L318,294.1 L320.4,292.3 L323.4,288.7 L325.2,283.9 L326.4,280.3 L327.6,280.9 L328.7,278.5 L330.5,274.4 L331.7,270.8 L332.9,267.8 L334.1,269.6 L335.3,271.4 L335.9,273.2 L337.1,275.6 L337.7,276.1 L338.9,275 L340.7,275 L342.5,273.2 L343.7,267.2 L344.3,263.6 L345.5,260 L346.4,257.1 L348.3,251.3 L349.3,241.7 L350.2,236 L351.1,225.3 L352.2,213 L353.5,206 L354.8,202.8 L355.7,202.2 L356.6,203.5 L357.2,210 L357.6,216 L358.3,226 L358.8,229.5 L359.5,227 L360.2,224.5 L361,226 L361.7,228.5 L362.4,226 L363.1,224.5 L363.6,229 L364.2,236 L364.6,248.7 L365.6,258.3 L366.8,267.9 L368,277.5 L369.2,287.1 L371.6,294.3 L374,296.6 L376.3,297.1 L394,297.8" fill="none" stroke="#555" stroke-width="0.9" stroke-linejoin="round"/>
<path d="M293.2,297.8 L314,297.8 L317.4,295.9 L319.8,294.1 L322.8,291.7 L324.6,289.9 L326.4,286.9 L327.6,283.9 L329.3,283.3 L331.1,282.7 L332.9,281.5 L334.1,281.5 L335.3,283.9 L336.5,287.5 L337.4,288.7 L338.3,285.7 L339.5,283.9 L340.7,285.1 L342.5,282.7 L343.7,277.9 L344.9,272 L346.1,263.6 L346.7,260 L347.4,255.2 L349.6,243.7 L350.5,236 L352.3,225.3 L353.2,213 L354.2,206 L355.2,203 L355.9,203.3 L356.6,206 L356.9,213 L357.4,216.5 L358.2,220 L359,226 L359.6,230 L360.4,226.5 L361.2,226 L361.9,229 L362.6,226 L363.3,226 L363.8,230 L364.4,237 L364.9,248.7 L365.8,258.3 L367,267.9 L368.2,277.5 L369.4,287.1 L371.8,294.3 L374.2,296.6 L376.5,297.1 L394,297.8" fill="none" stroke="#555" stroke-width="0.9" stroke-linejoin="round"/>
<path d="M413,293.9 L414,297.4 L419.2,297.5 L426.4,297.1 L431.7,296.6 L437.1,294.8 L441.6,292.1 L445.2,287.6 L447.9,281.3 L449.7,272.3 L451.5,261.5 L452.4,250.8 L453.3,240 L453.7,233.4 L454.7,221.4 L455.8,209.5 L456.7,204.2 L457.7,203.5 L458.8,206.5 L460,202.7 L460.7,206.5 L461.8,212.5 L462.7,218.5 L463.3,227.4 L464.5,229 L465.7,234.9 L466.3,240 L468.1,245.4 L469.9,250.8 L471.7,258 L473.5,266.9 L475.3,275.9 L478,283.1 L481.5,288.5 L485.1,292.1 L488.7,294.8 L494.1,296.6 L499.5,297.5 L514,297.8" fill="none" stroke="#555" stroke-width="0.9" stroke-linejoin="round"/>
<path d="M413,297.8 L450,297.8 L456,297.2 L460,295.7 L462.7,292.1 L465,286.7 L466.8,275.9 L468.1,265.1 L469,254.4 L469.9,245.4 L470.4,234.9 L471.6,224.4 L472.4,221.4 L473.1,211 L474.2,203.5 L474.9,202 L476,205 L476.7,212.5 L477.6,225.9 L478.7,240.9 L479.7,254.4 L481.5,268.7 L483.3,275.9 L486,283.1 L487.8,285.8 L489.6,289.4 L492.3,293 L495.9,295.7 L499.5,297.1 L514,297.8" fill="none" stroke="#555" stroke-width="0.9" stroke-linejoin="round"/>
<text transform="translate(24.5,255.6) rotate(-90)" text-anchor="middle" font-size="11.05" font-weight="bold">Relative cell number</text>
<line x1="31.9" y1="312.8" x2="31.9" y2="200" stroke="#000" stroke-width="2.2"/>
<polygon points="31.9,196.3 34.3,201.2 29.5,201.2" fill="#000"/>
<line x1="39" y1="313.6" x2="515" y2="313.6" stroke="#000" stroke-width="2.2"/>
<polygon points="519,313.6 513.5,311 513.5,316.2" fill="#000"/>
<text x="268.4" y="330.8" text-anchor="middle" font-size="14" font-weight="bold">CFSE</text>
</svg>
</body></html>
